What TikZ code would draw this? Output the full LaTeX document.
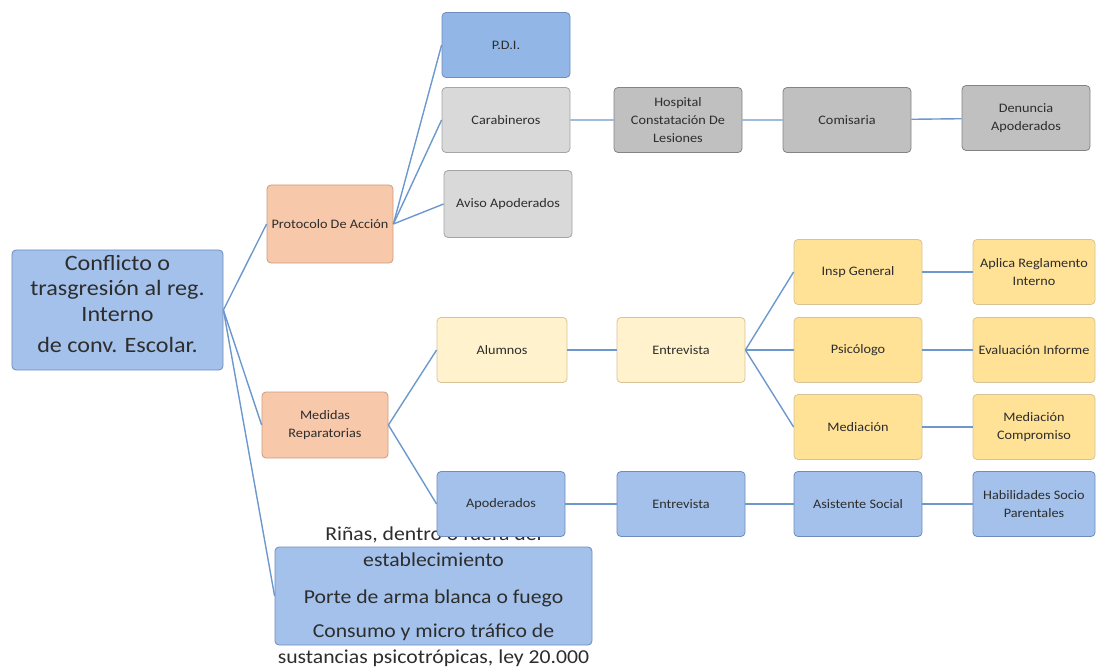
\documentclass[tikz,border=0pt]{standalone}
\usepackage{fontspec}
\setmainfont{Carlito}[FakeStretch=1.1]
\definecolor{linea}{RGB}{108,152,205}
\definecolor{texto}{RGB}{45,45,45}
\definecolor{azulc}{RGB}{163,193,234}
\definecolor{azulp}{RGB}{146,183,230}
\definecolor{azulb}{RGB}{110,140,190}
\definecolor{salmonc}{RGB}{248,200,170}
\definecolor{salmonb}{RGB}{205,155,125}
\definecolor{grisc}{RGB}{217,217,217}
\definecolor{grisb}{RGB}{165,165,165}
\definecolor{grisd}{RGB}{192,192,192}
\definecolor{amac}{RGB}{255,242,204}
\definecolor{amab}{RGB}{215,195,150}
\definecolor{amad}{RGB}{255,226,150}
\begin{document}
\begin{tikzpicture}[x=1bp,y=-1bp,
  caja/.style={draw,rounded corners=4bp,line width=0.8bp,minimum width=128bp,minimum height=65bp,
    align=center,inner sep=2bp,text=texto,font=\fontsize{13}{18}\selectfont},
  azul/.style={caja,fill=azulc,draw=azulb},
  salmon/.style={caja,fill=salmonc,draw=salmonb,minimum width=126bp},
  gris/.style={caja,fill=grisc,draw=grisb},
  grisoscuro/.style={caja,fill=grisd,draw=grisb!80!black},
  amarillo/.style={caja,fill=amac,draw=amab},
  amarillofuerte/.style={caja,fill=amad,draw=amab},
  grande/.style={align=center,text=texto,inner sep=0pt},
  rama/.style={draw=linea,line width=1.4bp}]
\useasboundingbox (0,0) rectangle (1096,671);
% raiz
\node[azul,minimum width=211bp,minimum height=120bp] (conflicto) at (117.5,310) {};
\node[grande,font=\fontsize{22}{25.5}\selectfont] (conflictotxt) at (117.5,304)
  {Conflicto o\\trasgresión al reg.\\Interno\\[6bp]de conv. Escolar.};
\node[salmon,minimum height=78bp] (protocolo) at (330,224) {Protocolo De Acción};
\node[salmon,minimum height=66bp] (medidas) at (325,425) {Medidas\\Reparatorias};
\node[azul,minimum width=317bp,minimum height=98bp] (faltas) at (433.5,596) {};
\node[grande,font=\fontsize{19.8}{26}\selectfont] (faltastxt) at (433.5,597)
  {Riñas, dentro o fuera del\\establecimiento\\[11bp]Porte de arma blanca o fuego\\[8bp]Consumo y micro tráfico de\\sustancias psicotrópicas, ley 20.000};
% protocolo
\node[azul,fill=azulp] (pdi) at (506,45) {P.D.I.};
\node[gris] (carabineros) at (506,120) {Carabineros};
\node[gris,minimum height=67bp] (aviso) at (508,204) {Aviso Apoderados};
\node[grisoscuro] (hospital) at (678,120) {Hospital\\Constatación De\\Lesiones};
\node[grisoscuro] (comisaria) at (847,120) {Comisaria};
\node[grisoscuro] (denuncia) at (1026,118) {Denuncia\\Apoderados};
% alumnos
\node[amarillo,minimum width=130bp] (alumnos) at (502,350) {Alumnos};
\node[amarillo] (entrevistaA) at (681,350) {Entrevista};
\node[amarillofuerte] (insp) at (858,272) {Insp General};
\node[amarillofuerte] (psicologo) at (858,350) {Psicólogo};
\node[amarillofuerte] (mediacion) at (858,427) {Mediación};
\node[amarillofuerte,minimum width=122bp] (aplica) at (1034,272) {Aplica Reglamento\\Interno};
\node[amarillofuerte,minimum width=122bp] (evaluacion) at (1034,350) {Evaluación Informe};
\node[amarillofuerte,minimum width=122bp] (compromiso) at (1034,427) {Mediación\\Compromiso};
% apoderados
\node[azul] (apoderados) at (501,504) {Apoderados};
\node[azul] (entrevistaB) at (681,504) {Entrevista};
\node[azul] (asistente) at (858,504) {Asistente Social};
\node[azul,minimum width=122bp] (habilidades) at (1034,504) {Habilidades Socio\\Parentales};
% conectores
\draw[rama] (conflicto.east) -- (protocolo.west);
\draw[rama] (conflicto.east) -- (medidas.west);
\draw[rama] (conflicto.east) -- (faltas.west);
\foreach \hijo in {pdi,carabineros,aviso}
  \draw[rama] (protocolo.east) -- (\hijo.west);
\draw[rama] (carabineros) -- (hospital) -- (comisaria) -- (denuncia);
\draw[rama] (medidas.east) -- (alumnos.west);
\draw[rama] (medidas.east) -- (apoderados.west);
\draw[rama] (alumnos) -- (entrevistaA);
\foreach \hijo in {insp,psicologo,mediacion}
  \draw[rama] (entrevistaA.east) -- (\hijo.west);
\draw[rama] (insp) -- (aplica);
\draw[rama] (psicologo) -- (evaluacion);
\draw[rama] (mediacion) -- (compromiso);
\draw[rama] (apoderados) -- (entrevistaB) -- (asistente) -- (habilidades);
\end{tikzpicture}
\end{document}
